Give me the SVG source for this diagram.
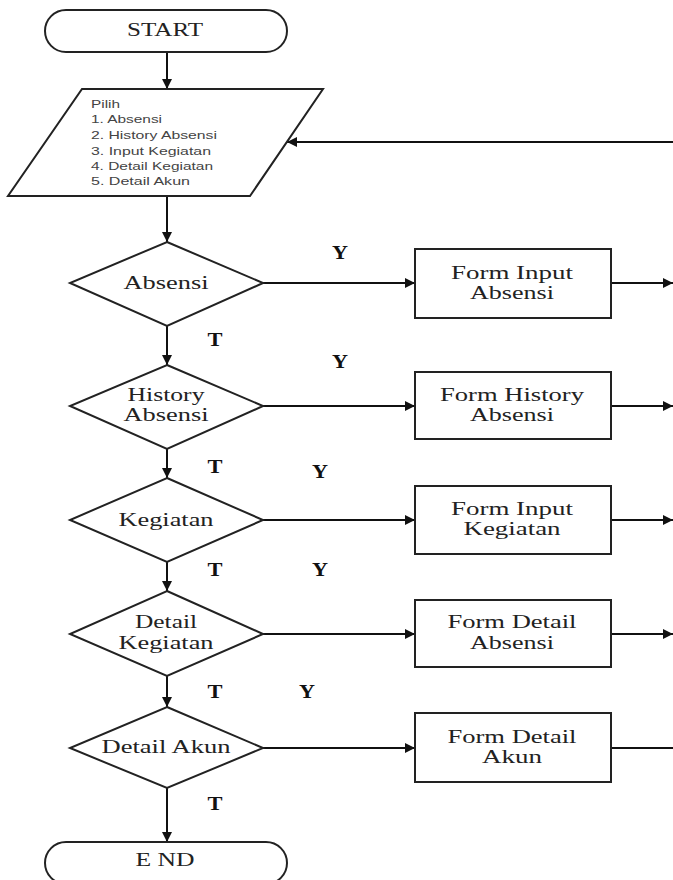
<svg xmlns="http://www.w3.org/2000/svg" width="673" height="880" viewBox="0 0 673 880">
<defs>
<style>
.shape{fill:#fff;stroke:#222;stroke-width:2}
.line{fill:none;stroke:#111;stroke-width:2}
.t{font-family:"Liberation Serif","DejaVu Serif",serif;font-size:18px;fill:#222;text-anchor:middle;dominant-baseline:central}
.lbl{font-family:"Liberation Serif","DejaVu Serif",serif;font-size:18px;font-weight:bold;fill:#111;text-anchor:middle;dominant-baseline:central}
.list{font-family:"Liberation Sans","Open Sans",sans-serif;font-size:10.5px;fill:#444;dominant-baseline:central}
</style>
<marker id="ah" viewBox="0 0 10 10" refX="10" refY="5" markerWidth="10" markerHeight="10" markerUnits="userSpaceOnUse" orient="auto">
<path d="M0,0 L10,5 L0,10 z" fill="#111"/>
</marker>
</defs>
<rect width="673" height="880" fill="#fff"/>

<g id="connectors">
<line class="line" x1="167" y1="52" x2="167" y2="89" marker-end="url(#ah)"/>
<line class="line" x1="167" y1="196" x2="167" y2="242" marker-end="url(#ah)"/>
<line class="line" x1="673" y1="142" x2="287" y2="142" marker-end="url(#ah)"/>
<line class="line" x1="167" y1="326" x2="167" y2="365" marker-end="url(#ah)"/>
<line class="line" x1="167" y1="449" x2="167" y2="478" marker-end="url(#ah)"/>
<line class="line" x1="167" y1="562" x2="167" y2="591" marker-end="url(#ah)"/>
<line class="line" x1="167" y1="676" x2="167" y2="707" marker-end="url(#ah)"/>
<line class="line" x1="167" y1="788" x2="167" y2="842" marker-end="url(#ah)"/>
<line class="line" x1="263" y1="283" x2="415" y2="283" marker-end="url(#ah)"/>
<line class="line" x1="263" y1="406" x2="415" y2="406" marker-end="url(#ah)"/>
<line class="line" x1="263" y1="520" x2="415" y2="520" marker-end="url(#ah)"/>
<line class="line" x1="263" y1="634" x2="415" y2="634" marker-end="url(#ah)"/>
<line class="line" x1="263" y1="748" x2="415" y2="748" marker-end="url(#ah)"/>
<line class="line" x1="611" y1="283" x2="673" y2="283" marker-end="url(#ah)"/>
<line class="line" x1="611" y1="406" x2="673" y2="406" marker-end="url(#ah)"/>
<line class="line" x1="611" y1="520" x2="673" y2="520" marker-end="url(#ah)"/>
<line class="line" x1="611" y1="634" x2="673" y2="634" marker-end="url(#ah)"/>
<line class="line" x1="611" y1="748" x2="673" y2="748"/>
<text class="lbl" x="340" y="253" textLength="16" lengthAdjust="spacingAndGlyphs">Y</text>
<text class="lbl" x="340" y="362" textLength="16" lengthAdjust="spacingAndGlyphs">Y</text>
<text class="lbl" x="320" y="472" textLength="16" lengthAdjust="spacingAndGlyphs">Y</text>
<text class="lbl" x="320" y="570" textLength="16" lengthAdjust="spacingAndGlyphs">Y</text>
<text class="lbl" x="307" y="692" textLength="16" lengthAdjust="spacingAndGlyphs">Y</text>
<text class="lbl" x="215" y="340" textLength="15" lengthAdjust="spacingAndGlyphs">T</text>
<text class="lbl" x="215" y="467" textLength="15" lengthAdjust="spacingAndGlyphs">T</text>
<text class="lbl" x="215" y="570" textLength="15" lengthAdjust="spacingAndGlyphs">T</text>
<text class="lbl" x="215" y="692" textLength="15" lengthAdjust="spacingAndGlyphs">T</text>
<text class="lbl" x="215" y="804" textLength="15" lengthAdjust="spacingAndGlyphs">T</text>
</g>

<g id="start">
<rect class="shape" x="45" y="10" width="242" height="42" rx="21"/>
<text class="t" x="165" y="30" textLength="76" lengthAdjust="spacingAndGlyphs">START</text>
</g>

<g id="pilih">
<polygon class="shape" points="82,89 323,89 250,196 8,196"/>
<text class="list" x="91" y="104" textLength="29" lengthAdjust="spacingAndGlyphs">Pilih</text>
<text class="list" x="91" y="119" textLength="71" lengthAdjust="spacingAndGlyphs">1. Absensi</text>
<text class="list" x="91" y="135" textLength="126" lengthAdjust="spacingAndGlyphs">2. History Absensi</text>
<text class="list" x="91" y="151" textLength="120" lengthAdjust="spacingAndGlyphs">3. Input Kegiatan</text>
<text class="list" x="91" y="166" textLength="122" lengthAdjust="spacingAndGlyphs">4. Detail Kegiatan</text>
<text class="list" x="91" y="181" textLength="99" lengthAdjust="spacingAndGlyphs">5. Detail Akun</text>
</g>

<g id="d-absensi">
<polygon class="shape" points="167,242 263,283 167,326 70,283"/>
<text class="t" x="166" y="283" textLength="85" lengthAdjust="spacingAndGlyphs">Absensi</text>
</g>

<g id="d-history">
<polygon class="shape" points="167,365 263,406 167,449 70,406"/>
<text class="t" x="166" y="395" textLength="77" lengthAdjust="spacingAndGlyphs">History</text>
<text class="t" x="166" y="415" textLength="85" lengthAdjust="spacingAndGlyphs">Absensi</text>
</g>

<g id="d-kegiatan">
<polygon class="shape" points="167,478 263,520 167,562 70,520"/>
<text class="t" x="166" y="520" textLength="95" lengthAdjust="spacingAndGlyphs">Kegiatan</text>
</g>

<g id="d-detail-kegiatan">
<polygon class="shape" points="167,591 263,634 167,676 70,634"/>
<text class="t" x="166" y="622" textLength="62" lengthAdjust="spacingAndGlyphs">Detail</text>
<text class="t" x="166" y="643" textLength="95" lengthAdjust="spacingAndGlyphs">Kegiatan</text>
</g>

<g id="d-detail-akun">
<polygon class="shape" points="167,707 263,748 167,788 70,748"/>
<text class="t" x="166" y="747" textLength="129" lengthAdjust="spacingAndGlyphs">Detail Akun</text>
</g>

<g id="end">
<rect class="shape" x="45" y="842" width="242" height="42" rx="21"/>
<text class="t" x="165" y="860" textLength="59" lengthAdjust="spacingAndGlyphs">E ND</text>
</g>

<g id="f-input-absensi">
<rect class="shape" x="415" y="249" width="196" height="69"/>
<text class="t" x="512" y="273" textLength="122" lengthAdjust="spacingAndGlyphs">Form Input</text>
<text class="t" x="512" y="293" textLength="84" lengthAdjust="spacingAndGlyphs">Absensi</text>
</g>

<g id="f-history-absensi">
<rect class="shape" x="415" y="372" width="196" height="67"/>
<text class="t" x="512" y="395" textLength="144" lengthAdjust="spacingAndGlyphs">Form History</text>
<text class="t" x="512" y="415" textLength="84" lengthAdjust="spacingAndGlyphs">Absensi</text>
</g>

<g id="f-input-kegiatan">
<rect class="shape" x="415" y="486" width="196" height="68"/>
<text class="t" x="512" y="509" textLength="122" lengthAdjust="spacingAndGlyphs">Form Input</text>
<text class="t" x="512" y="529" textLength="97" lengthAdjust="spacingAndGlyphs">Kegiatan</text>
</g>

<g id="f-detail-absensi">
<rect class="shape" x="415" y="600" width="196" height="67"/>
<text class="t" x="512" y="622" textLength="129" lengthAdjust="spacingAndGlyphs">Form Detail</text>
<text class="t" x="512" y="643" textLength="84" lengthAdjust="spacingAndGlyphs">Absensi</text>
</g>

<g id="f-detail-akun">
<rect class="shape" x="415" y="713" width="196" height="69"/>
<text class="t" x="512" y="737" textLength="129" lengthAdjust="spacingAndGlyphs">Form Detail</text>
<text class="t" x="512" y="757" textLength="60" lengthAdjust="spacingAndGlyphs">Akun</text>
</g>
</svg>
